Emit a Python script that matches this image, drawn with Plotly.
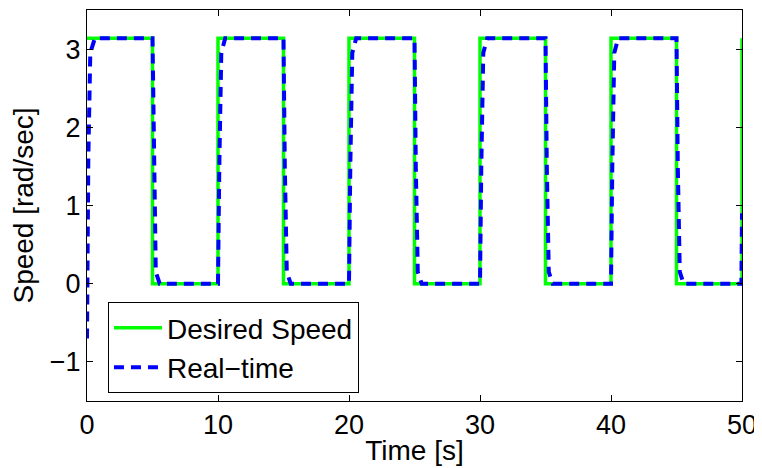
import plotly.graph_objects as go

# Desired speed (square wave)
desired_t = [0, 5, 5, 10, 10, 15, 15, 20, 20, 25, 25, 30, 30, 35, 35, 40, 40, 45, 45, 50, 50]
desired_v = [3.14, 3.14, 0, 0, 3.14, 3.14, 0, 0, 3.14, 3.14, 0, 0, 3.14, 3.14, 0, 0, 3.14, 3.14, 0, 0, 3.14]

# Real-time measured speed
real_t = [0, 0.1, 0.25, 0.6,
          5.0, 5.1, 5.25, 5.55,
          10.0, 10.1, 10.25, 10.55,
          15.0, 15.1, 15.25, 15.55,
          20.0, 20.1, 20.25, 20.55,
          25.0, 25.1, 25.25, 25.55,
          30.0, 30.1, 30.25, 30.55,
          35.0, 35.1, 35.25, 35.55,
          40.0, 40.1, 40.25, 40.55,
          45.0, 45.1, 45.25, 45.55,
          49.95, 50.0]
real_v = [-0.7, 1.6, 2.95, 3.14,
          3.14, 1.5, 0.15, 0,
          0, 1.5, 2.95, 3.14,
          3.14, 1.5, 0.15, 0,
          0, 1.5, 2.95, 3.14,
          3.14, 1.5, 0.15, 0,
          0, 1.5, 2.95, 3.14,
          3.14, 1.5, 0.15, 0,
          0, 1.5, 2.95, 3.14,
          3.14, 1.5, 0.15, 0,
          0, 0.9]

x_ticks = [0, 10, 20, 30, 40, 50]
y_ticks = [-1, 0, 1, 2, 3]

FONT = "Liberation Sans, Arial, Helvetica, sans-serif"
FS = 27

fig = go.Figure()
fig.add_trace(go.Scatter(x=desired_t, y=desired_v, mode="lines", name="Desired Speed",
                         line=dict(color="#00FF00", width=3.5)))
fig.add_trace(go.Scatter(x=real_t, y=real_v, mode="lines", name="Real\u2212time",
                         line=dict(color="#0000FF", width=4, dash="10px,7px")))

axis_common = dict(showline=True, linecolor="black", linewidth=1, mirror="allticks",
                   ticks="inside", ticklen=6, tickcolor="black", tickwidth=1,
                   showgrid=False, zeroline=False, automargin=False,
                   tickfont=dict(family=FONT, size=FS, color="black"))

fig.update_xaxes(range=[0, 50], tickvals=x_ticks,
                 title=dict(text="Time [s]", font=dict(family=FONT, size=28, color="black"), standoff=0),
                 **axis_common)
fig.update_yaxes(range=[-1.5, 3.5], tickvals=y_ticks,
                 title=dict(text="Speed [rad/sec]", font=dict(family=FONT, size=28, color="black"), standoff=8),
                 **axis_common)

# page body has an 8px margin, so the figure is offset by 8px
fig.update_layout(
    width=754, height=460,
    margin=dict(l=79, r=20, t=2, b=67),
    paper_bgcolor="white", plot_bgcolor="white",
    font=dict(family=FONT, size=FS, color="black"),
    showlegend=True,
    legend=dict(x=0.032, y=0.253, xanchor="left", yanchor="top",
                bgcolor="white", bordercolor="black", borderwidth=1,
                font=dict(family=FONT, size=28, color="black"),
                tracegroupgap=0, itemwidth=48),
)

fig.write_html("out.html")
